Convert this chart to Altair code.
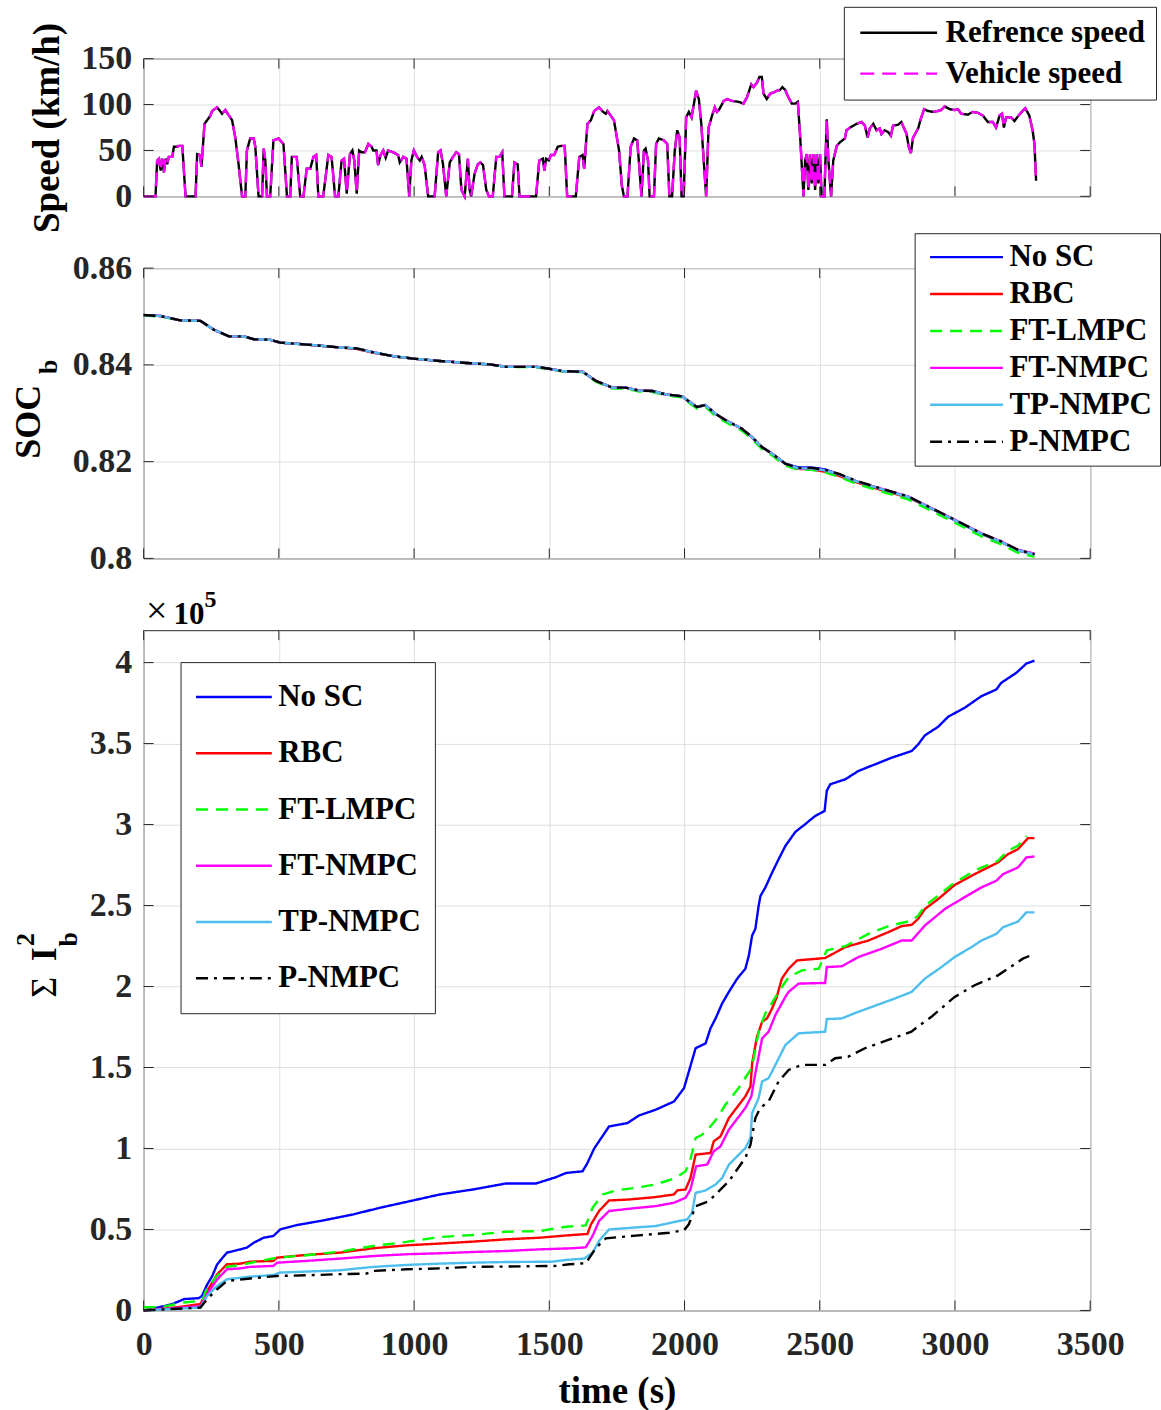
import altair as alt
import pandas as pd

FONT = "Liberation Serif"
INK = "#262626"
GRID = "#dfdfdf"

W = 949
H1, H2, H3 = 138, 291, 682
X_TICKS = [0, 500, 1000, 1500, 2000, 2500, 3000, 3500]

# ---------------- speed profile (km/h) ----------------
speed_t = [0, 44, 50, 57, 63, 69, 75, 81, 87, 93, 106, 112, 124, 130, 143, 155, 192, 198, 208, 214,
           225, 235, 247, 253, 272, 290, 302, 311, 327, 339, 351, 364, 376, 382, 394, 407, 413, 425, 438, 444,
           450, 456, 468, 480, 499, 517, 530, 542, 548, 566, 579, 591, 603, 616, 628, 638, 646, 664, 683, 695,
           708, 720, 732, 741, 751, 763, 772, 779, 788, 797, 806, 818, 831, 843, 849, 861, 867, 876, 886, 895,
           904, 923, 941, 947, 960, 972, 982, 990, 999, 1011, 1021, 1028, 1039, 1052, 1076, 1089, 1098, 1107, 1119, 1132,
           1144, 1156, 1166, 1175, 1187, 1199, 1205, 1211, 1224, 1236, 1245, 1255, 1267, 1277, 1291, 1304, 1316, 1326, 1334, 1362,
           1371, 1383, 1390, 1451, 1463, 1476, 1482, 1488, 1498, 1506, 1518, 1531, 1543, 1557, 1566, 1598, 1611, 1623, 1629, 1641,
           1654, 1666, 1684, 1699, 1709, 1715, 1727, 1739, 1758, 1768, 1776, 1789, 1801, 1813, 1825, 1831, 1841, 1850, 1856, 1865,
           1871, 1887, 1895, 1905, 1924, 1936, 1944, 1954, 1964, 1973, 1982, 1989, 1997, 2006, 2016, 2026, 2043, 2053, 2062, 2071,
           2080, 2089, 2102, 2112, 2120, 2129, 2145, 2157, 2175, 2200, 2218, 2231, 2247, 2255, 2268, 2277, 2286, 2292, 2304, 2317,
           2329, 2341, 2353, 2362, 2372, 2384, 2397, 2409, 2419, 2427, 2440, 2446, 2452, 2458, 2464, 2470, 2476, 2483, 2489, 2495,
           2501, 2507, 2517, 2526, 2532, 2542, 2550, 2563, 2575, 2593, 2599, 2618, 2636, 2655, 2667, 2677, 2685, 2698, 2710, 2722,
           2728, 2740, 2753, 2763, 2771, 2790, 2802, 2812, 2821, 2829, 2837, 2845, 2864, 2873, 2886, 2900, 2919, 2937, 2949, 2962,
           2980, 3000, 3011, 3023, 3048, 3066, 3085, 3103, 3122, 3140, 3152, 3165, 3174, 3181, 3189, 3208, 3220, 3235, 3247, 3260,
           3275, 3287, 3294, 3300]
ref_speed = [0, 0, 39, 41, 28, 41, 26, 41, 35, 43, 43, 54, 54, 55, 55, 0, 0, 46, 45, 32,
             79, 83, 88, 93, 97, 90, 94, 90, 83, 64, 35, 0, 0, 50, 63, 63, 54, 0, 0, 52,
             39, 0, 0, 61, 63, 57, 0, 0, 43, 43, 0, 0, 30, 30, 43, 45, 0, 0, 45, 43,
             0, 0, 39, 41, 3, 46, 50, 39, 3, 50, 48, 48, 57, 54, 50, 50, 34, 45, 50, 42,
             50, 48, 45, 37, 43, 41, 0, 39, 50, 43, 39, 43, 34, 0, 0, 48, 50, 35, 0, 37,
             43, 48, 46, 7, 0, 41, 8, 0, 25, 35, 37, 34, 7, 0, 0, 43, 43, 48, 0, 0,
             37, 35, 0, 0, 39, 41, 28, 41, 39, 45, 45, 54, 55, 55, 0, 0, 43, 45, 30, 79,
             83, 93, 97, 92, 90, 93, 88, 83, 50, 12, 0, 0, 54, 63, 61, 39, 0, 50, 52, 39,
             0, 0, 57, 63, 61, 57, 0, 0, 50, 72, 64, 0, 0, 86, 92, 86, 115, 106, 79, 39,
             0, 75, 88, 97, 92, 95, 104, 106, 104, 103, 101, 108, 122, 119, 124, 130, 130, 112, 106, 112,
             113, 115, 116, 119, 116, 108, 101, 101, 103, 68, 0, 39, 46, 7, 46, 14, 46, 7, 46, 14,
             46, 0, 0, 84, 39, 0, 39, 55, 59, 63, 72, 76, 79, 81, 77, 64, 74, 79, 72, 74,
             68, 72, 70, 66, 77, 78, 81, 74, 68, 54, 47, 64, 74, 84, 95, 93, 92, 93, 94, 98,
             95, 94, 95, 90, 89, 92, 91, 88, 81, 81, 75, 88, 90, 75, 86, 86, 82, 88, 92, 96,
             88, 72, 57, 17]
veh_speed = list(ref_speed)

# ---------------- battery state of charge ----------------
soc_t = [0, 63, 136, 210, 259, 315, 370, 407, 468, 505, 603, 726, 788, 849, 923, 996, 1095, 1193, 1279, 1340,
         1451, 1500, 1549, 1623, 1672, 1733, 1782, 1831, 1881, 1930, 1991, 2010, 2046, 2077, 2114, 2151, 2212, 2249, 2286, 2323,
         2372, 2421, 2470, 2520, 2569, 2642, 2741, 2827, 2913, 2999, 3097, 3171, 3232, 3294]
soc_no_sc = [0.8503, 0.8501, 0.8492, 0.8491, 0.8473, 0.8459, 0.8459, 0.8453, 0.8452, 0.8446, 0.8442, 0.8436, 0.8434, 0.8426,
             0.8418, 0.8413, 0.8408, 0.8404, 0.8401, 0.8396, 0.8396, 0.8392, 0.8387, 0.8386, 0.8367, 0.8353, 0.8353, 0.8347,
             0.8346, 0.8339, 0.8335, 0.8327, 0.8313, 0.8317, 0.8299, 0.8286, 0.8268, 0.8251, 0.8230, 0.8217, 0.8196, 0.8188,
             0.8188, 0.8184, 0.8174, 0.8158, 0.8141, 0.8127, 0.8103, 0.8079, 0.8051, 0.8034, 0.8017, 0.8008]
soc_rbc = [0.8503, 0.8501, 0.8492, 0.8491, 0.8473, 0.8459, 0.8459, 0.8453, 0.8452, 0.8446, 0.8442, 0.8436, 0.8433, 0.8425,
           0.8418, 0.8413, 0.8408, 0.8404, 0.8401, 0.8396, 0.8396, 0.8392, 0.8387, 0.8386, 0.8367, 0.8353, 0.8353, 0.8347,
           0.8346, 0.8339, 0.8335, 0.8327, 0.8313, 0.8317, 0.8299, 0.8286, 0.8268, 0.8251, 0.8230, 0.8217, 0.8196, 0.8185,
           0.8184, 0.8179, 0.8171, 0.8156, 0.8139, 0.8126, 0.8103, 0.8079, 0.8051, 0.8034, 0.8017, 0.8008]
soc_ft_lmpc = [0.8502, 0.8500, 0.8492, 0.8491, 0.8473, 0.8459, 0.8459, 0.8453, 0.8452, 0.8446, 0.8442, 0.8436, 0.8434, 0.8426,
               0.8418, 0.8413, 0.8408, 0.8404, 0.8401, 0.8396, 0.8395, 0.8391, 0.8386, 0.8385, 0.8365, 0.8351, 0.8351, 0.8345,
               0.8344, 0.8337, 0.8333, 0.8324, 0.8310, 0.8313, 0.8295, 0.8282, 0.8264, 0.8247, 0.8226, 0.8213, 0.8192, 0.8183,
               0.8183, 0.8178, 0.8169, 0.8153, 0.8136, 0.8122, 0.8098, 0.8074, 0.8046, 0.8029, 0.8012, 0.8003]
soc_ft_nmpc = [0.8503, 0.8501, 0.8492, 0.8491, 0.8473, 0.8459, 0.8459, 0.8453, 0.8452, 0.8446, 0.8442, 0.8436, 0.8434, 0.8426,
               0.8418, 0.8413, 0.8408, 0.8404, 0.8401, 0.8396, 0.8396, 0.8392, 0.8387, 0.8386, 0.8367, 0.8353, 0.8353, 0.8347,
               0.8346, 0.8339, 0.8335, 0.8327, 0.8313, 0.8317, 0.8299, 0.8286, 0.8268, 0.8251, 0.8230, 0.8217, 0.8196, 0.8186,
               0.8186, 0.8182, 0.8174, 0.8158, 0.8142, 0.8128, 0.8104, 0.8080, 0.8052, 0.8035, 0.8018, 0.8010]
soc_tp_nmpc = [0.8503, 0.8501, 0.8492, 0.8491, 0.8473, 0.8459, 0.8459, 0.8453, 0.8452, 0.8446, 0.8442, 0.8436, 0.8434, 0.8426,
               0.8418, 0.8413, 0.8408, 0.8404, 0.8401, 0.8396, 0.8396, 0.8392, 0.8387, 0.8386, 0.8367, 0.8353, 0.8353, 0.8347,
               0.8346, 0.8339, 0.8335, 0.8327, 0.8313, 0.8317, 0.8299, 0.8286, 0.8268, 0.8251, 0.8230, 0.8217, 0.8196, 0.8186,
               0.8186, 0.8182, 0.8174, 0.8158, 0.8141, 0.8127, 0.8103, 0.8079, 0.8051, 0.8034, 0.8017, 0.8008]
soc_p_nmpc = [0.8503, 0.8501, 0.8492, 0.8491, 0.8473, 0.8459, 0.8459, 0.8453, 0.8452, 0.8446, 0.8442, 0.8436, 0.8434, 0.8426,
              0.8418, 0.8413, 0.8408, 0.8404, 0.8401, 0.8396, 0.8396, 0.8392, 0.8387, 0.8386, 0.8367, 0.8353, 0.8353, 0.8347,
              0.8346, 0.8339, 0.8335, 0.8327, 0.8313, 0.8317, 0.8299, 0.8286, 0.8268, 0.8251, 0.8230, 0.8217, 0.8196, 0.8187,
              0.8187, 0.8183, 0.8175, 0.8159, 0.8142, 0.8128, 0.8104, 0.8080, 0.8052, 0.8035, 0.8018, 0.8009]

# ---------------- cumulative squared battery current (x 1e5) ----------------
nosc_t = [0, 63, 106, 149, 204, 216, 235, 253, 272, 308, 358, 382, 407, 444, 480, 505, 566, 665, 775, 874,
          996, 1095, 1218, 1340, 1451, 1525, 1562, 1623, 1641, 1666, 1721, 1789, 1832, 1893, 1961, 1998, 2016, 2041, 2078, 2096,
          2115, 2139, 2164, 2195, 2225, 2238, 2250, 2262, 2274, 2281, 2299, 2324, 2348, 2373, 2410, 2446, 2483, 2518, 2526, 2539,
          2594, 2643, 2705, 2766, 2840, 2864, 2889, 2938, 2975, 3036, 3098, 3153, 3171, 3227, 3264, 3294]
nosc_i2 = [0.0, 0.022, 0.039, 0.07, 0.076, 0.09, 0.16, 0.21, 0.285, 0.357, 0.377, 0.388, 0.418, 0.449, 0.46, 0.5, 0.527, 0.556, 0.593, 0.634,
           0.679, 0.716, 0.747, 0.784, 0.784, 0.823, 0.849, 0.859, 0.91, 1.0, 1.136, 1.157, 1.204, 1.239, 1.29, 1.372, 1.475, 1.619, 1.649, 1.742,
           1.803, 1.895, 1.967, 2.049, 2.11, 2.192, 2.315, 2.356, 2.498, 2.56, 2.612, 2.704, 2.786, 2.868, 2.955, 3.002, 3.053, 3.084, 3.208, 3.249,
           3.279, 3.331, 3.372, 3.413, 3.454, 3.495, 3.551, 3.604, 3.666, 3.721, 3.793, 3.834, 3.875, 3.937, 3.994, 4.012]

rbc_t = [0, 112, 210, 235, 272, 308, 358, 394, 480, 493, 603, 726, 849, 972, 1095, 1218, 1340, 1463, 1586, 1641,
         1654, 1684, 1721, 1795, 1893, 1961, 1973, 2004, 2022, 2041, 2096, 2108, 2133, 2164, 2225, 2244, 2250, 2268, 2287, 2305,
         2324, 2340, 2360, 2385, 2416, 2520, 2594, 2680, 2754, 2803, 2840, 2864, 2889, 2938, 2999, 3073, 3159, 3196, 3233, 3270,
         3294]
rbc_i2 = [0.0, 0.018, 0.039, 0.12, 0.223, 0.285, 0.289, 0.301, 0.306, 0.326, 0.343, 0.357, 0.384, 0.402, 0.413, 0.425, 0.439, 0.449, 0.466, 0.472,
          0.531, 0.614, 0.679, 0.685, 0.7, 0.716, 0.741, 0.747, 0.818, 0.962, 0.972, 1.044, 1.075, 1.188, 1.322, 1.383, 1.526, 1.69, 1.783, 1.803,
          1.865, 1.93, 2.049, 2.11, 2.161, 2.176, 2.243, 2.284, 2.336, 2.373, 2.381, 2.418, 2.479, 2.54, 2.627, 2.694, 2.766, 2.817, 2.848, 2.916,
          2.916]

ftl_t = [0, 63, 149, 216, 235, 272, 308, 358, 431, 493, 603, 726, 849, 972, 1095, 1218, 1340, 1463, 1562, 1635,
         1660, 1697, 1746, 1820, 1893, 1967, 2004, 2022, 2041, 2065, 2096, 2121, 2151, 2200, 2244, 2256, 2274, 2299, 2324, 2348,
         2385, 2434, 2496, 2526, 2594, 2680, 2754, 2840, 2864, 2889, 2938, 2999, 3085, 3159, 3196, 3233, 3264]
ftl_i2 = [0.02, 0.02, 0.049, 0.06, 0.14, 0.213, 0.269, 0.281, 0.306, 0.326, 0.341, 0.363, 0.398, 0.423, 0.453, 0.466, 0.486, 0.49, 0.517, 0.525,
          0.634, 0.716, 0.741, 0.757, 0.778, 0.818, 0.86, 0.932, 1.065, 1.085, 1.136, 1.188, 1.27, 1.373, 1.485, 1.557, 1.721, 1.834, 1.9, 1.967,
          2.059, 2.1, 2.11, 2.223, 2.249, 2.325, 2.373, 2.407, 2.438, 2.499, 2.561, 2.643, 2.725, 2.776, 2.838, 2.869, 2.93]

ftn_t = [0, 210, 235, 272, 308, 358, 394, 480, 493, 603, 726, 849, 972, 1095, 1218, 1340, 1463, 1586, 1635, 1660,
         1684, 1721, 1807, 1893, 1961, 2004, 2022, 2043, 2084, 2108, 2133, 2164, 2225, 2247, 2262, 2287, 2311, 2336, 2373, 2385,
         2422, 2520, 2526, 2582, 2643, 2729, 2803, 2840, 2889, 2963, 3024, 3098, 3153, 3178, 3233, 3264, 3294]
ftn_i2 = [0.0, 0.026, 0.1, 0.192, 0.254, 0.26, 0.269, 0.275, 0.295, 0.306, 0.32, 0.336, 0.347, 0.353, 0.361, 0.367, 0.377, 0.384, 0.39, 0.46,
          0.552, 0.614, 0.63, 0.644, 0.665, 0.696, 0.747, 0.89, 0.901, 0.983, 1.013, 1.116, 1.25, 1.321, 1.465, 1.68, 1.721, 1.824, 1.936, 1.967,
          2.018, 2.022, 2.12, 2.125, 2.182, 2.233, 2.284, 2.284, 2.377, 2.479, 2.54, 2.612, 2.653, 2.694, 2.735, 2.797, 2.803]

tpn_t = [0, 210, 235, 272, 308, 382, 480, 505, 603, 726, 849, 972, 1095, 1218, 1340, 1512, 1562, 1629, 1660, 1684,
         1721, 1807, 1893, 1979, 2010, 2028, 2041, 2078, 2115, 2139, 2164, 2225, 2244, 2250, 2274, 2287, 2311, 2336, 2373, 2422,
         2520, 2526, 2581, 2643, 2717, 2778, 2840, 2889, 2950, 2999, 3061, 3098, 3153, 3178, 3233, 3264, 3294]
tpn_i2 = [0.0, 0.018, 0.09, 0.152, 0.192, 0.207, 0.219, 0.234, 0.24, 0.248, 0.269, 0.281, 0.289, 0.295, 0.299, 0.301, 0.312, 0.32, 0.357, 0.429,
          0.5, 0.511, 0.521, 0.552, 0.562, 0.603, 0.726, 0.741, 0.778, 0.818, 0.9, 1.003, 1.065, 1.219, 1.311, 1.414, 1.434, 1.516, 1.639, 1.711,
          1.721, 1.799, 1.803, 1.844, 1.889, 1.926, 1.967, 2.049, 2.12, 2.182, 2.243, 2.284, 2.325, 2.366, 2.401, 2.458, 2.458]

pn_t = [0, 210, 235, 272, 308, 394, 493, 603, 726, 825, 849, 972, 1095, 1218, 1340, 1525, 1574, 1635, 1672, 1709,
        1820, 1943, 1998, 2016, 2041, 2090, 2115, 2164, 2225, 2244, 2262, 2280, 2311, 2348, 2385, 2434, 2520, 2557, 2606, 2667,
        2753, 2839, 2870, 2913, 2999, 3073, 3159, 3196, 3251, 3294]
pn_i2 = [0.0, 0.018, 0.07, 0.131, 0.182, 0.197, 0.213, 0.217, 0.224, 0.228, 0.244, 0.254, 0.26, 0.269, 0.271, 0.275, 0.285, 0.292, 0.385, 0.445,
         0.462, 0.48, 0.495, 0.532, 0.644, 0.675, 0.716, 0.798, 0.942, 1.024, 1.188, 1.25, 1.291, 1.414, 1.485, 1.516, 1.516, 1.557, 1.567, 1.619,
         1.67, 1.721, 1.762, 1.813, 1.936, 2.008, 2.069, 2.11, 2.172, 2.202]

METHODS = ["No SC", "RBC", "FT-LMPC", "FT-NMPC", "TP-NMPC", "P-NMPC"]
METHOD_COLORS = ["#0000ff", "#ff0000", "#00ff00", "#ff00ff", "#4dbeee", "#000000"]
METHOD_DASH = [[1, 0], [1, 0], [12, 8], [1, 0], [1, 0], [12, 6, 3, 6]]
LINE_W = 2.4


def frame(pairs, value_name):
    rows = []
    for name, ts, vs in pairs:
        for t, v in zip(ts, vs):
            rows.append({"t": t, value_name: v, "series": name})
    return pd.DataFrame(rows)


speed_df = frame([("Refrence speed", speed_t, ref_speed),
                  ("Vehicle speed", speed_t, veh_speed)], "speed")
soc_df = frame([(m, soc_t, s) for m, s in zip(
    METHODS, [soc_no_sc, soc_rbc, soc_ft_lmpc, soc_ft_nmpc, soc_tp_nmpc, soc_p_nmpc])], "soc")
i2_df = frame([("No SC", nosc_t, nosc_i2), ("RBC", rbc_t, rbc_i2), ("FT-LMPC", ftl_t, ftl_i2),
               ("FT-NMPC", ftn_t, ftn_i2), ("TP-NMPC", tpn_t, tpn_i2), ("P-NMPC", pn_t, pn_i2)], "i2")

x_scale = alt.Scale(domain=[0, 3500], nice=False, zero=False)


def legend(x, y, row_h, row_pad, sym_len, pad, label_off, sym_off):
    return alt.Legend(title=None, orient="none", legendX=x, legendY=y,
                      symbolType="stroke", symbolSize=sym_len * sym_len, symbolStrokeWidth=LINE_W,
                      symbolOffset=sym_off, clipHeight=row_h,
                      labelFont=FONT, labelFontSize=31, labelFontWeight="bold", labelColor="black",
                      labelLimit=0, labelOffset=label_off, rowPadding=row_pad, padding=pad,
                      strokeColor=INK, fillColor="white")


def inner_ticks(x_axis, y_vals, y_scale, y_axis, h):
    xt = pd.DataFrame({"tick": X_TICKS})
    yt = pd.DataFrame({"tick": y_vals})
    xr = alt.Chart(xt).mark_rule(color=INK, strokeWidth=1)
    yr = alt.Chart(yt).mark_rule(color=INK, strokeWidth=1)
    xe = alt.X("tick:Q", scale=x_scale, axis=x_axis)
    ye = alt.Y("tick:Q", scale=y_scale, axis=y_axis)
    return [
        xr.encode(x=xe, y=alt.value(0), y2=alt.value(10)),
        xr.encode(x=xe, y=alt.value(h - 10), y2=alt.value(h)),
        yr.encode(y=ye, x=alt.value(0), x2=alt.value(10)),
        yr.encode(y=ye, x=alt.value(W - 10), x2=alt.value(W)),
    ]


def text(s, x, y, size, angle=0, weight="bold", align="center", baseline="middle"):
    return alt.Chart(pd.DataFrame({"s": [s]})).mark_text(
        font=FONT, fontSize=size, fontWeight=weight, angle=angle, align=align,
        baseline=baseline, color="black").encode(x=alt.value(x), y=alt.value(y), text="s:N")


hidden_x = alt.Axis(values=X_TICKS, labels=False, ticks=False, domain=False, title=None, grid=True)

# ---- panel 1: speed ----
sp_y = alt.Scale(domain=[0, 150], nice=False)
sp_vals = [0, 50, 100, 150]
sp_axis = alt.Axis(values=sp_vals, title="Speed (km/h)", format="d")
sp_names = ["Refrence speed", "Vehicle speed"]
sp_leg = legend(702, -52, 32, 9, 77, 10, 7, 5)
speed_lines = alt.Chart(speed_df).mark_line(strokeWidth=LINE_W).encode(
    x=alt.X("t:Q", scale=x_scale, axis=hidden_x),
    y=alt.Y("speed:Q", scale=sp_y, axis=sp_axis),
    color=alt.Color("series:N", scale=alt.Scale(domain=sp_names, range=["#000000", "#ff00ff"]), legend=sp_leg),
    strokeDash=alt.StrokeDash("series:N", scale=alt.Scale(domain=sp_names, range=[[1, 0], [14, 8]]), legend=sp_leg),
)
panel1 = alt.layer(speed_lines, *inner_ticks(hidden_x, sp_vals, sp_y, sp_axis, H1)).properties(width=W, height=H1)

# ---- panel 2: state of charge ----
soc_y = alt.Scale(domain=[0.80, 0.86], nice=False, zero=False)
soc_vals = [0.80, 0.82, 0.84, 0.86]
soc_axis = alt.Axis(values=soc_vals, title=None, format=".2~f")
soc_leg = legend(773, -35, 32, 5, 73, 8, 5, 6)
soc_lines = alt.Chart(soc_df).mark_line(strokeWidth=LINE_W).encode(
    x=alt.X("t:Q", scale=x_scale, axis=hidden_x),
    y=alt.Y("soc:Q", scale=soc_y, axis=soc_axis),
    color=alt.Color("series:N", scale=alt.Scale(domain=METHODS, range=METHOD_COLORS), legend=soc_leg),
    strokeDash=alt.StrokeDash("series:N", scale=alt.Scale(domain=METHODS, range=METHOD_DASH), legend=soc_leg),
)
panel2 = alt.layer(
    soc_lines, *inner_ticks(hidden_x, soc_vals, soc_y, soc_axis, H2),
    text("SOC", -115, 154, 36, angle=270),
    text("b", -95, 99, 26, angle=270),
).properties(width=W, height=H2)

# ---- panel 3: cumulative squared current ----
i2_y = alt.Scale(domain=[0, 4.2], nice=False)
i2_vals = [0, 0.5, 1, 1.5, 2, 2.5, 3, 3.5, 4]
i2_axis = alt.Axis(values=i2_vals, title=None, format=".1~f")
t_axis = alt.Axis(values=X_TICKS, title="time (s)", format="d", grid=True)
i2_leg = legend(37, 32, 42, 14.4, 76, 14, 5, 0)
i2_lines = alt.Chart(i2_df).mark_line(strokeWidth=LINE_W).encode(
    x=alt.X("t:Q", scale=x_scale, axis=t_axis),
    y=alt.Y("i2:Q", scale=i2_y, axis=i2_axis),
    color=alt.Color("series:N", scale=alt.Scale(domain=METHODS, range=METHOD_COLORS), legend=i2_leg),
    strokeDash=alt.StrokeDash("series:N", scale=alt.Scale(domain=METHODS, range=METHOD_DASH), legend=i2_leg),
)
panel3 = alt.layer(
    i2_lines, *inner_ticks(t_axis, i2_vals, i2_y, i2_axis, H3),
    text("\u03a3", -99, 358, 36, angle=270, weight="normal"),
    text("I", -99, 325, 36, angle=270),
    text("2", -118, 310, 26, angle=270),
    text("b", -75, 310, 26, angle=270),
    text("\u00d7", 13, -18, 38, weight="normal"),
    text("10", 30, -6, 31, align="left", baseline="alphabetic"),
    text("5", 61, -23, 24, align="left", baseline="alphabetic"),
).properties(width=W, height=H3)

chart = alt.vconcat(panel1, panel2, panel3, spacing=72, bounds="flush").resolve_scale(
    color="independent", strokeDash="independent", x="independent", y="independent"
).resolve_legend(color="independent", strokeDash="independent").properties(
    padding={"left": 10, "top": 4, "right": 0, "bottom": 5},
    background="white",
).configure_view(stroke=INK, strokeWidth=1).configure_axis(
    labelFont=FONT, labelFontSize=34, labelFontWeight="bold", labelColor=INK, labelPadding=12,
    labelFlush=False, labelOverlap=False,
    titleFont=FONT, titleFontSize=37, titleFontWeight="bold", titleColor="black",
    gridColor=GRID, gridWidth=1, domain=False, ticks=False,
).configure_axisY(titlePadding=14).configure_axisX(titlePadding=12, labelPadding=17)

chart.save("out.html", embed_options={"renderer": "svg", "actions": False})
